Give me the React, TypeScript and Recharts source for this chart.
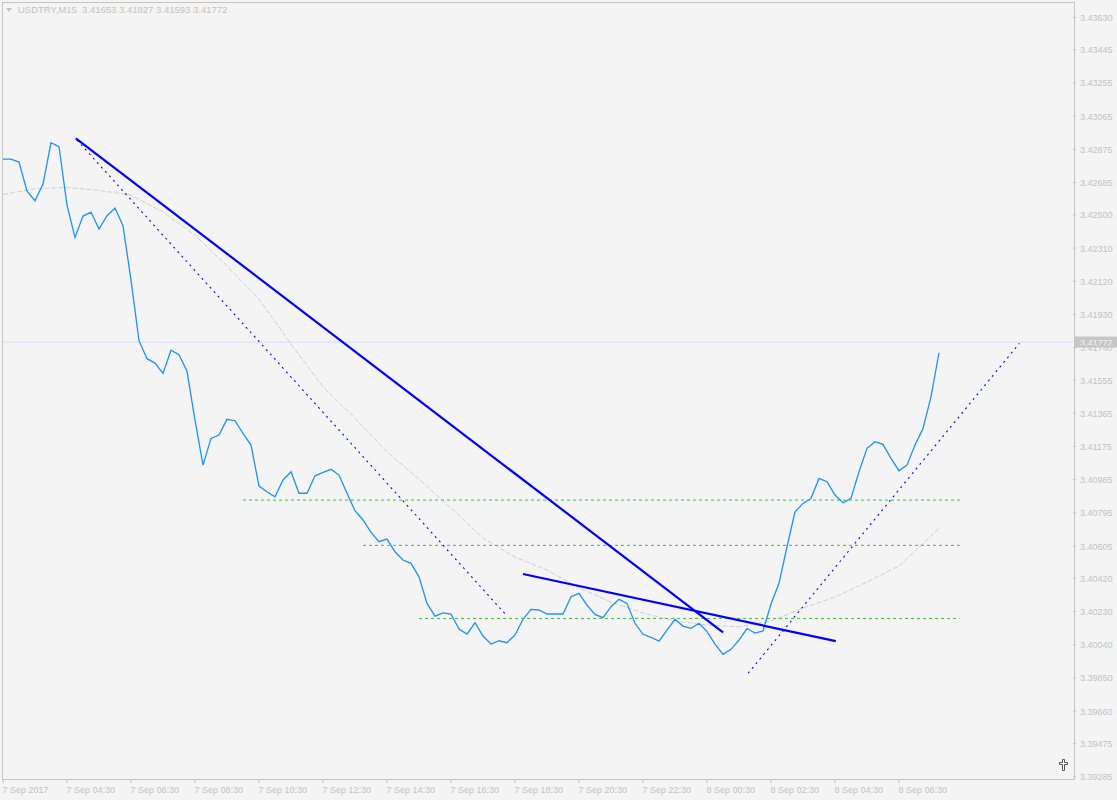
import React from "react";
import { ComposedChart, Line, XAxis, YAxis, ReferenceLine } from "recharts";

/* USDTRY M15, 7 Sep 02:30 -> 8 Sep 07:45, one close per bar */
const symbol = "USDTRY,M15";
const ohlc = [3.41653, 3.41827, 3.41593, 3.41772];
const bid = 3.41772;

const closes = [
  3.42819, 3.42819, 3.42802, 3.42636, 3.42581, 3.42676, 3.42913, 3.4289, 3.42556, 3.42371,
  3.42493, 3.42516, 3.42419, 3.42495, 3.42539, 3.42438, 3.42127, 3.4178, 3.41677, 3.41652,
  3.41593, 3.41725, 3.417, 3.41605, 3.41326, 3.41068, 3.41221, 3.4124, 3.4133, 3.41322,
  3.4125, 3.41183, 3.40948, 3.40916, 3.40887, 3.40983, 3.4103, 3.40907, 3.40907, 3.41007,
  3.41027, 3.41044, 3.41011, 3.40907, 3.40807, 3.40754, 3.40683, 3.4063, 3.40645, 3.40572,
  3.40525, 3.40506, 3.40429, 3.40277, 3.40204, 3.40223, 3.40216, 3.4013, 3.40101, 3.40166,
  3.4009, 3.40044, 3.40063, 3.40052, 3.40096, 3.40186, 3.40243, 3.40239, 3.40216, 3.40216,
  3.40216, 3.40315, 3.40334, 3.40267, 3.40214, 3.40195, 3.40258, 3.403, 3.40277, 3.40163,
  3.401, 3.40083, 3.40061, 3.40124, 3.40186, 3.40147, 3.40134, 3.40163, 3.40115, 3.40044,
  3.39985, 3.40014, 3.40067, 3.40133, 3.40107, 3.40119, 3.40273, 3.40392, 3.40601, 3.40801,
  3.40849, 3.40878, 3.40992, 3.40973, 3.40897, 3.40853, 3.40878, 3.4103, 3.41164, 3.41202,
  3.41187, 3.41107, 3.41036, 3.41068, 3.41183, 3.41278, 3.41459, 3.41711,
];

// moving average, read every 4th bar
const maBars = [0, 4, 8, 12, 16, 20, 24, 28, 32, 36, 40, 44, 48, 52, 56, 60, 64, 68, 72, 76, 80, 84, 88, 92, 96, 100, 104, 108, 112, 116, 117];
const maValues = [
  3.42617, 3.42649, 3.42657, 3.4264, 3.42613, 3.42516, 3.42384, 3.42207, 3.42018, 3.41761,
  3.41516, 3.41337, 3.41143, 3.40988, 3.40822, 3.40651, 3.40542, 3.40468, 3.40365, 3.40285,
  3.40222, 3.40176, 3.40153, 3.40143, 3.40176, 3.4025, 3.40313, 3.40399, 3.40491, 3.40662,
  3.40708,
];

const timeTicks = [0, 8, 16, 24, 32, 40, 48, 56, 64, 72, 80, 88, 96, 104, 112];
const timeLabels = [
  "7 Sep 2017", "7 Sep 04:30", "7 Sep 06:30", "7 Sep 08:30", "7 Sep 10:30",
  "7 Sep 12:30", "7 Sep 14:30", "7 Sep 16:30", "7 Sep 18:30", "7 Sep 20:30",
  "7 Sep 22:30", "8 Sep 00:30", "8 Sep 02:30", "8 Sep 04:30", "8 Sep 06:30",
];

const priceTicks = [
  3.4363, 3.43445, 3.43255, 3.43065, 3.42875, 3.42685, 3.425, 3.4231, 3.4212, 3.4193,
  3.4174, 3.41555, 3.41365, 3.41175, 3.40985, 3.40795, 3.40605, 3.4042, 3.4023, 3.4004,
  3.3985, 3.3966, 3.39475, 3.39285,
];

// [bar, price] anchors
const solidTrends = [
  [[9.1, 3.42938], [90.0, 3.40111]],
  [[65.0, 3.40445], [104.1, 3.40061]],
];
const dottedTrends = [
  [[9.25, 3.42928], [62.9, 3.4021]],
  [[93.15, 3.39877], [127.05, 3.41765]],
];
const levels = [
  { price: 3.40868, from: 30.0, to: 119.6 },
  { price: 3.40609, from: 45.0, to: 119.6 },
  { price: 3.40191, from: 52.0, to: 119.6 },
];

const data = closes.map((c, i) => {
  const k = maBars.indexOf(i);
  return { i, close: c, ma: k >= 0 ? maValues[k] : null };
});

const FONT = "Tahoma, 'Liberation Sans', Arial, sans-serif";
const TEXT = "#c2c2c2";

function TimeTick({ x, y, payload }: any) {
  const k = timeTicks.indexOf(payload.value);
  return (
    <text x={x - 0.5} y={y + 8} textAnchor="start" fontSize={9} fontFamily={FONT} fill={TEXT}>
      {timeLabels[k]}
    </text>
  );
}

function PriceTick({ x, y, payload }: any) {
  return (
    <text x={x} y={y + 3.5} textAnchor="start" fontSize={9} fontFamily={FONT} fill={TEXT}>
      {Number(payload.value).toFixed(5)}
    </text>
  );
}

function BidLabel(props: any) {
  const vb = props.viewBox;
  if (!vb) return null;
  const right = vb.x + vb.width;
  return (
    <g>
      <rect x={right + 2} y={vb.y - 5.5} width={44} height={11} fill="#c6c6c6" />
      <text x={right + 7} y={vb.y + 3.5} fontSize={9} fontFamily={FONT} fill="#f4f4f4">
        {bid.toFixed(5)}
      </text>
    </g>
  );
}

export default function App() {
  return (
    <div style={{ position: "absolute", left: 0, top: 0, width: 1117, height: 800, background: "#f4f4f4", overflow: "hidden" }}>
      <ComposedChart width={1117} height={800} data={data} margin={{ top: 2, right: 0, left: 3, bottom: 0 }}>
        <XAxis
          dataKey="i"
          type="number"
          domain={[0, 133.75]}
          ticks={timeTicks}
          interval={0}
          tick={<TimeTick />}
          tickSize={4}
          tickMargin={2}
          axisLine={false}
          tickLine={{ stroke: "#c4c4c4" }}
          height={21}
          allowDataOverflow
        />
        <YAxis
          orientation="right"
          type="number"
          domain={[3.39272, 3.43718]}
          ticks={priceTicks}
          interval={0}
          tick={<PriceTick />}
          tickSize={3}
          tickMargin={4}
          axisLine={false}
          tickLine={{ stroke: "#c4c4c4" }}
          width={44}
          allowDataOverflow
        />
        <ReferenceLine y={bid} stroke="#dadaf8" strokeWidth={1} label={<BidLabel />} />
        <Line
          dataKey="ma"
          type="linear"
          stroke="#cfcfcf"
          strokeWidth={1}
          strokeDasharray="5 2"
          dot={false}
          connectNulls
          isAnimationActive={false}
        />
        <Line
          dataKey="close"
          type="linear"
          stroke="#1e90ff"
          strokeWidth={1.3}
          dot={false}
          isAnimationActive={false}
        />
        {levels.map((l, k) => (
          <ReferenceLine
            key={"lv" + k}
            segment={[{ x: l.from, y: l.price }, { x: l.to, y: l.price }]}
            stroke="#2ecc2e"
            strokeDasharray="3 3"
          />
        ))}
        {dottedTrends.map((t, k) => (
          <ReferenceLine
            key={"dt" + k}
            segment={[{ x: t[0][0], y: t[0][1] }, { x: t[1][0], y: t[1][1] }]}
            stroke="#0000ff"
            strokeWidth={1.1}
            strokeDasharray="2 4"
          />
        ))}
        {solidTrends.map((t, k) => (
          <ReferenceLine
            key={"st" + k}
            segment={[{ x: t[0][0], y: t[0][1] }, { x: t[1][0], y: t[1][1] }]}
            stroke="#0000ff"
            strokeWidth={2.2}
          />
        ))}
      </ComposedChart>

      {/* chart frame */}
      <div style={{ position: "absolute", left: 2, top: 2, width: 1073, height: 778, boxSizing: "border-box", border: "1px solid #c4c4c4", pointerEvents: "none" }} />

      {/* symbol header */}
      <div style={{ position: "absolute", left: 6, top: 4, display: "flex", alignItems: "center", gap: 6, fontFamily: FONT, fontSize: 9.5, color: TEXT, whiteSpace: "pre" }}>
        <svg width={6} height={4}><polygon points="0,0 6,0 3,4" fill={TEXT} /></svg>
        <span>{symbol + "  " + ohlc.map((v) => v.toFixed(5)).join(" ")}</span>
      </div>

      {/* chart shift marker */}
      <svg style={{ position: "absolute", left: 1059, top: 759 }} width={9} height={12}>
        <path d="M3.5 0.5h2v3h3v2h-3v6h-2v-6h-3v-2h3z" fill="#ffffff" stroke="#555" strokeWidth={1} />
      </svg>
    </div>
  );
}
